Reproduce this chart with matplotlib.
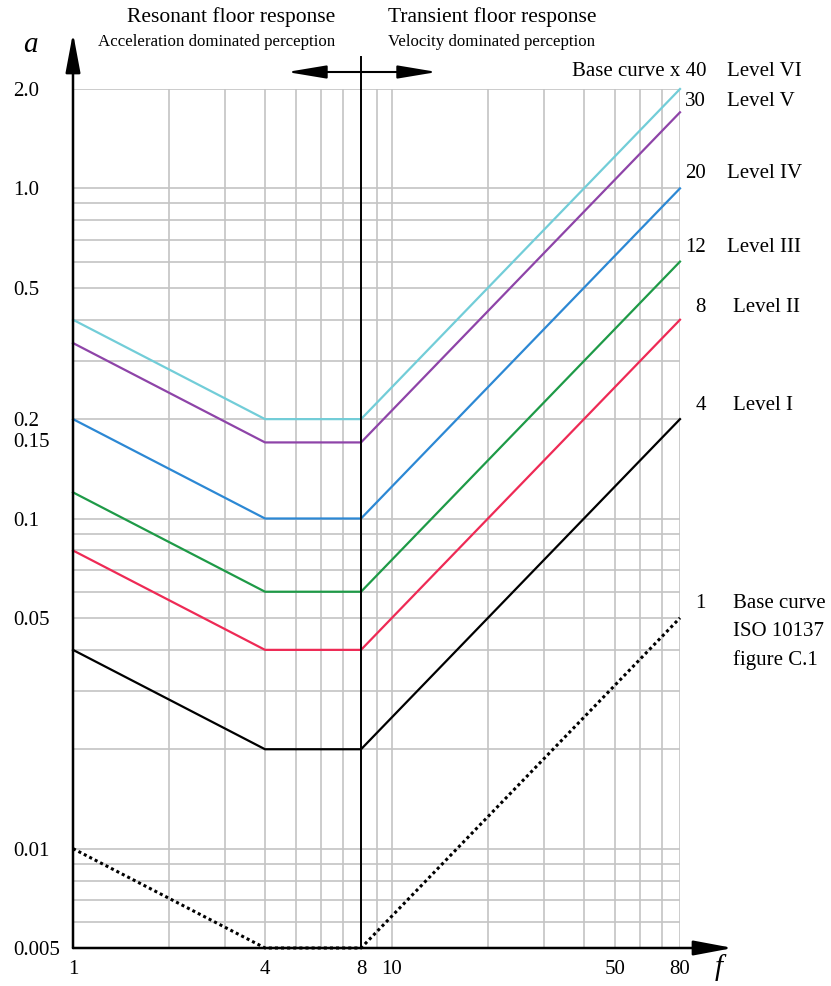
import numpy as np
import matplotlib
matplotlib.use('Agg')
import matplotlib.pyplot as plt
from matplotlib.ticker import LogLocator, NullFormatter
from matplotlib.transforms import blended_transform_factory

plt.rcParams['font.family'] = ['Liberation Serif', 'DejaVu Serif']

# frequency breakpoints and acceleration values
freq = [1, 4, 8, 80]
base_curve = [0.01, 0.005, 0.005, 0.05]
level_1 = [0.04, 0.02, 0.02, 0.2]
level_2 = [0.08, 0.04, 0.04, 0.4]
level_3 = [0.12, 0.06, 0.06, 0.6]
level_4 = [0.2, 0.1, 0.1, 1.0]
level_5 = [0.34, 0.17, 0.17, 1.7]
level_6 = [0.4, 0.2, 0.2, 2.0]

levels = [level_1, level_2, level_3, level_4, level_5, level_6]
level_colors = ['black', '#ee2a55', '#1e9a47', '#2c88d4', '#8e44a8', '#72cdd8']

x_ticks = [1, 4, 8, 10, 50, 80]
y_ticks = [0.005, 0.01, 0.05, 0.1, 0.2, 0.5, 1.0, 2.0]
y_labels = ['0.005', '0.01', '0.05', '0.1', '0.2', '0.5', '1.0', '2.0']

W, H = 831, 986
fig = plt.figure(figsize=(W / 100, H / 100), dpi=100)
ax = fig.add_axes([73 / W, 38 / H, 607 / W, 859 / H])
ax.set_xscale('log')
ax.set_yscale('log')
ax.set_xlim(1, 80)
ax.set_ylim(0.005, 2.0)

ax.xaxis.set_minor_locator(LogLocator(base=10, subs=np.arange(2, 10)))
ax.yaxis.set_minor_locator(LogLocator(base=10, subs=np.arange(2, 10)))
ax.xaxis.set_minor_formatter(NullFormatter())
ax.yaxis.set_minor_formatter(NullFormatter())
ax.set_xticks(x_ticks, [str(t) for t in x_ticks])
ax.set_yticks(y_ticks, y_labels)
ax.tick_params(which='both', length=0, labelsize=15)
ax.tick_params(axis='x', pad=9)
ax.tick_params(axis='y', pad=43)
for lab in ax.get_yticklabels():
    lab.set_horizontalalignment('left')
ax.grid(which='both', color='#c4c4c4', lw=1.2)
ax.set_axisbelow(True)
for s in ax.spines.values():
    s.set_visible(False)

# "0.15" label sits at the level V plateau
tr = blended_transform_factory(ax.transAxes, ax.transData)
ax.text(-60 / 607, level_5[1], '0.15', transform=tr, ha='left', va='center', fontsize=15)

ax.plot(freq, base_curve, color='black', lw=2.2, linestyle=(0, (1, 1)), clip_on=False, zorder=4)
for vals, c in zip(levels, level_colors):
    ax.plot(freq, vals, color=c, lw=1.6, clip_on=False, zorder=3)

# divider at 8 Hz
ax.axvline(8, ymin=0, ymax=(948 - 57) / 859, color='black', lw=1.4, clip_on=False, zorder=5)

# axis arrows
arrow_kw = dict(arrowstyle='-|>,head_length=2.4,head_width=0.45', color='black', lw=1.8,
                shrinkA=0, shrinkB=0)
ax.annotate('', xy=(73, H - 33), xytext=(73, H - 948), xycoords='figure pixels',
            textcoords='figure pixels', arrowprops=arrow_kw, annotation_clip=False)
ax.annotate('', xy=(733, H - 948), xytext=(73, H - 948), xycoords='figure pixels',
            textcoords='figure pixels', arrowprops=arrow_kw, annotation_clip=False)
ax.annotate('', xy=(287, H - 72), xytext=(437, H - 72), xycoords='figure pixels',
            textcoords='figure pixels', annotation_clip=False,
            arrowprops=dict(arrowstyle='<|-|>,head_length=2.4,head_width=0.4', color='black',
                            lw=1.5, shrinkA=0, shrinkB=0))


def ftext(x, y, s, **kw):
    fig.text(x / W, 1 - y / H, s, va='center', **kw)


ftext(30, 45, 'a', fontsize=21, style='italic', ha='center')
ftext(719, 968, 'f', fontsize=21, style='italic', ha='center')

ftext(335, 17, 'Resonant floor response', fontsize=15.5, ha='right')
ftext(335, 42, 'Acceleration dominated perception', fontsize=12.2, ha='right')
ftext(388, 17, 'Transient floor response', fontsize=15.5, ha='left')
ftext(388, 42, 'Velocity dominated perception', fontsize=12.2, ha='left')

right_labels = [
    (72, 'Base curve x 40', 'Level VI', 727),
    (102, '30', 'Level V', 727),
    (173, '20', 'Level IV', 727),
    (248, '12', 'Level III', 727),
    (308, '8', 'Level II', 733),
    (406, '4', 'Level I', 733),
    (604, '1', 'Base curve', 733),
]
for y, num, name, xl in right_labels:
    ftext(706, y, num, fontsize=15, ha='right')
    ftext(xl, y, name, fontsize=15, ha='left')
ftext(733, 632, 'ISO 10137', fontsize=15, ha='left')
ftext(733, 660, 'figure C.1', fontsize=15, ha='left')

fig.savefig('out.png', dpi=100)
